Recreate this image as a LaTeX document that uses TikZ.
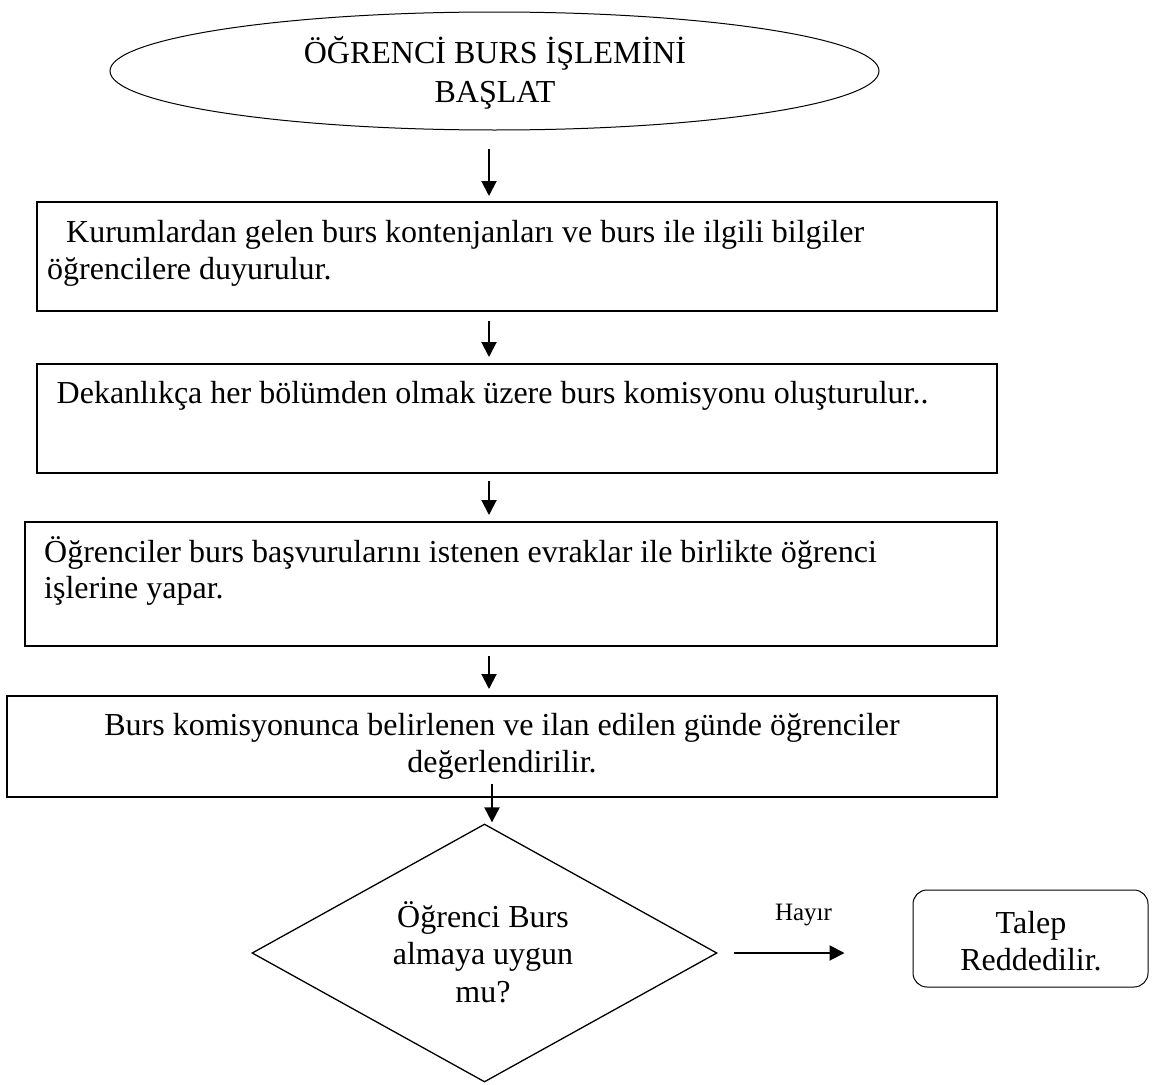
\documentclass[tikz,border=0pt]{standalone}
\usepackage{fontspec}
\setmainfont{Liberation Serif}
\usetikzlibrary{shapes.geometric,arrows.meta}
\begin{document}
\begin{tikzpicture}[x=1pt,y=-1pt,
  txt/.style={font=\fontsize{32}{37}\selectfont, inner sep=0pt},
  stepbox/.style={draw, line width=2pt, inner sep=0pt},
  arr/.style={-{Triangle[length=15pt,width=15pt]}, line width=2pt}]
\useasboundingbox (0,0) rectangle (1156,1084);

% start terminal
\node[draw, ellipse, line width=1pt, inner sep=0pt,
      minimum width=769pt, minimum height=118pt] (e) at (494.5,71) {};
\node[txt, anchor=base] (e1) at (495,63) {ÖĞRENCİ BURS İŞLEMİNİ};
\node[txt, anchor=base] (e2) at (495,102) {BAŞLAT};

% process steps
\node[stepbox, minimum width=960pt, minimum height=109pt] (b1) at (517,256.5) {};
\node[txt, anchor=base west] (b1a) at (47,242) {\hspace*{19pt}Kurumlardan gelen burs kontenjanları ve burs ile ilgili bilgiler};
\node[txt, anchor=base west] (b1b) at (47,279) {öğrencilere duyurulur.};

\node[stepbox, minimum width=960pt, minimum height=109pt] (b2) at (517,418.5) {};
\node[txt, anchor=base west] (b2a) at (56.5,403) {Dekanlıkça her bölümden olmak üzere burs komisyonu oluşturulur..};

\node[stepbox, minimum width=972pt, minimum height=124pt] (b3) at (511,584) {};
\node[txt, anchor=base west] (b3a) at (44,562) {Öğrenciler burs başvurularını istenen evraklar ile birlikte öğrenci};
\node[txt, anchor=base west] (b3b) at (44,598) {işlerine yapar.};

\node[stepbox, minimum width=990pt, minimum height=101pt] (b4) at (502,746.5) {};
\node[txt, anchor=base] (b4a) at (502,735) {Burs komisyonunca belirlenen ve ilan edilen günde öğrenciler};
\node[txt, anchor=base] (b4b) at (502,772) {değerlendirilir.};

% decision
\node[draw, diamond, line width=1.3pt, inner sep=0pt,
      minimum width=465pt, minimum height=258pt] (d) at (484.5,953) {};
\node[txt, anchor=base] (d1) at (483,927) {Öğrenci Burs};
\node[txt, anchor=base] (d2) at (483,964) {almaya uygun};
\node[txt, anchor=base] (d3) at (483,1002) {mu?};

% rejection terminal
\node[draw, rounded corners=14pt, line width=1pt, inner sep=0pt,
      minimum width=235pt, minimum height=97pt] (t) at (1030.5,938.5) {};
\node[txt, anchor=base] (t1) at (1031,933) {Talep};
\node[txt, anchor=base] (t2) at (1031,970) {Reddedilir.};

% connectors
\coordinate (axis) at (489,0);
\coordinate (axisb) at (492,0);
\draw[arr, shorten <=18pt, shorten >=5pt] (e.south -| axis) -- (b1.north -| axis);
\draw[arr, shorten <=9pt, shorten >=6pt] (b1.south -| axis) -- (b2.north -| axis);
\draw[arr, shorten <=7pt, shorten >=6pt] (b2.south -| axis) -- (b3.north -| axis);
\draw[arr, shorten <=9pt, shorten >=6pt] (b3.south -| axis) -- (b4.north -| axis);
\draw[arr, shorten <=-14pt, shorten >=1pt] (b4.south -| axisb) -- (d.north -| axisb);
\draw[arr, shorten <=16pt, shorten >=68pt] (d.east) -- (d.east -| t.west);
\node[font=\fontsize{25}{30}\selectfont, anchor=base, inner sep=0pt] (no) at (803.5,920) {Hayır};
\end{tikzpicture}
\end{document}
